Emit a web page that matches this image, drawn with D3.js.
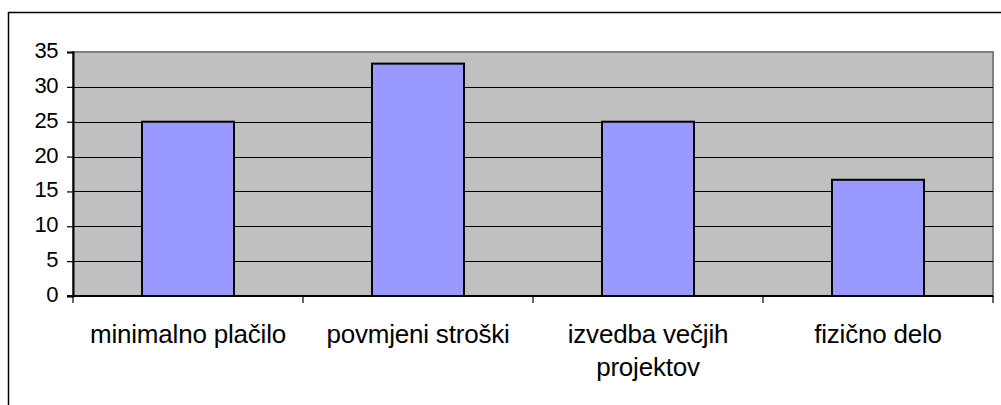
<!DOCTYPE html>
<html>
<head>
<meta charset="utf-8">
<script src="https://cdn.jsdelivr.net/npm/d3@7"></script>
<style>
  body { margin: 0; background: #fff; }
  svg text { font-family: "Liberation Sans", Arial, sans-serif; fill: #000; }
</style>
</head>
<body>
<div id="chart"></div>
<script>
// chart data
var categories = ["minimalno plačilo", "povmjeni stroški", "izvedba večjih projektov", "fizično delo"];
var labelLines = [["minimalno plačilo"], ["povmjeni stroški"], ["izvedba večjih", "projektov"], ["fizično delo"]];
var values = [25, 33.33, 25, 16.67];
var yTicks = [0, 5, 10, 15, 20, 25, 30, 35];

var width = 1001, height = 405;
var plot = { left: 73, top: 52, right: 993, bottom: 296 };

var svg = d3.select("#chart").append("svg")
	.attr("width", width)
	.attr("height", height);

// outer chart border (runs past the picture on right and bottom)
svg.append("rect")
	.attr("x", 8.5).attr("y", 12.5)
	.attr("width", 1100).attr("height", 500)
	.attr("fill", "#fff")
	.attr("stroke", "#000")
	.attr("stroke-width", 1.5);

var x = d3.scaleBand()
	.domain(categories)
	.range([plot.left, plot.right])
	.paddingInner(0.6)
	.paddingOuter(0.3);

var xOuter = d3.scaleBand()
	.domain(categories)
	.range([plot.left, plot.right]);

var y = d3.scaleLinear()
	.domain([0, 35])
	.range([plot.bottom, plot.top]);

// plot area
svg.append("rect")
	.attr("x", plot.left).attr("y", plot.top)
	.attr("width", plot.right - plot.left)
	.attr("height", plot.bottom - plot.top)
	.attr("fill", "#c0c0c0")
	.attr("stroke", "#808080")
	.attr("stroke-width", 2);

// gridlines
svg.selectAll(".grid")
	.data(yTicks.filter(function (d) { return d > 0 && d < 35; }))
	.enter().append("line")
	.attr("class", "grid")
	.attr("x1", plot.left).attr("x2", plot.right)
	.attr("y1", function (d) { return Math.round(y(d)) + 0.5; })
	.attr("y2", function (d) { return Math.round(y(d)) + 0.5; })
	.attr("stroke", "#000")
	.attr("stroke-width", 1);

// bars
svg.selectAll(".bar")
	.data(values)
	.enter().append("rect")
	.attr("class", "bar")
	.attr("x", function (d, i) { return x(categories[i]); })
	.attr("y", function (d) { return y(d); })
	.attr("width", x.bandwidth())
	.attr("height", function (d) { return plot.bottom - y(d); })
	.attr("fill", "#9999ff")
	.attr("stroke", "#000")
	.attr("stroke-width", 2);

// y axis
var yAxis = d3.axisLeft(y)
	.tickValues(yTicks)
	.tickSize(6)
	.tickPadding(9);

var gy = svg.append("g")
	.attr("transform", "translate(" + plot.left + ",0)")
	.call(yAxis);
gy.select(".domain").attr("stroke", "#000").attr("stroke-width", 2);
gy.selectAll(".tick line").attr("stroke", "#000").attr("stroke-width", 1.2);
gy.selectAll(".tick text")
	.attr("font-size", 22)
	.attr("font-family", "Liberation Sans, Arial, sans-serif")
	.attr("letter-spacing", "-0.5px")
	.attr("dy", "0.25em");

// x axis line and category separator ticks
svg.append("line")
	.attr("x1", plot.left - 6).attr("x2", plot.right)
	.attr("y1", plot.bottom).attr("y2", plot.bottom)
	.attr("stroke", "#000").attr("stroke-width", 2);

var sepX = categories.map(function (c) { return xOuter(c); }).concat([plot.right]);
svg.selectAll(".sep")
	.data(sepX)
	.enter().append("line")
	.attr("class", "sep")
	.attr("x1", function (d) { return d; })
	.attr("x2", function (d) { return d; })
	.attr("y1", plot.bottom)
	.attr("y2", plot.bottom + 7)
	.attr("stroke", "#000")
	.attr("stroke-width", 1.2);

// category labels
var labels = svg.selectAll(".cat")
	.data(categories)
	.enter().append("text")
	.attr("class", "cat")
	.attr("text-anchor", "middle")
	.attr("font-size", 26)
	.attr("letter-spacing", "-0.2px");

labels.each(function (c, i) {
	var t = d3.select(this);
	labelLines[i].forEach(function (line, k) {
		t.append("tspan")
			.attr("x", xOuter(c) + xOuter.bandwidth() / 2)
			.attr("y", 343 + k * 33)
			.text(line);
	});
});
</script>
</body>
</html>
